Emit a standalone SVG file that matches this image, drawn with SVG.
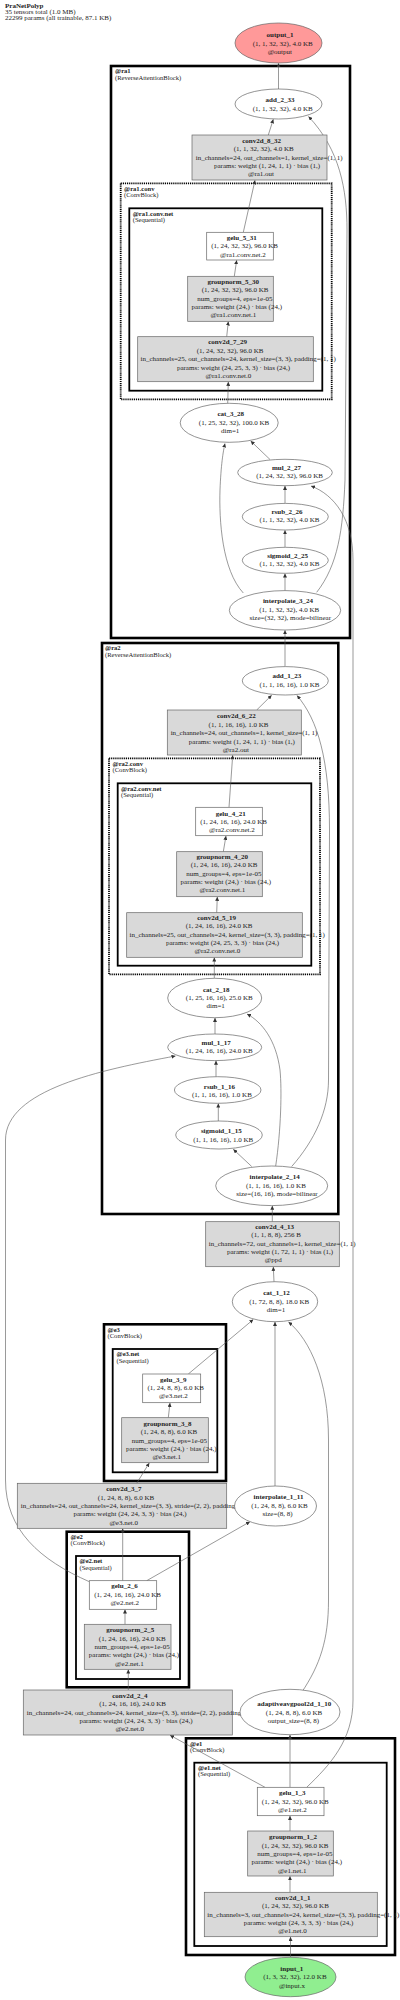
<svg xmlns="http://www.w3.org/2000/svg" width="400" height="2000" viewBox="0 0 400 2000">
<style>
text{font-family:"Liberation Serif","Times New Roman",serif;font-size:7px;fill:#222}
.t{text-anchor:middle}
.b{font-weight:bold}
.cl{font-size:6.6px}
.c3{fill:none;stroke:#000;stroke-width:2.6}
.c2{fill:none;stroke:#000;stroke-width:1.8}
.cd{fill:none;stroke:#000;stroke-width:1.8;stroke-dasharray:1.2 0.9}
.n{stroke:#666;stroke-width:0.7}
.g{fill:#d9d9d9}
.w{fill:#fff}
.e{fill:none;stroke:#555;stroke-width:0.6;marker-end:url(#ah)}
</style>
<defs>
<marker id="ah" viewBox="0 0 10 10" refX="10" refY="5" markerWidth="4" markerHeight="4" markerUnits="userSpaceOnUse" orient="auto">
<path d="M0,0 L10,5 L0,10 z" fill="#333"/>
</marker>
</defs>
<rect width="400" height="2000" fill="#fff"/>
<g id="title">
<text x="5" y="8" class="b">PraNetPolyp</text>
<text x="5" y="14">35 tensors total (1.0 MB)</text>
<text x="5" y="20">22299 params (all trainable, 87.1 KB)</text>
</g>
<g id="clusters">
<g id="cl-ra1"><rect x="111" y="66" width="239" height="572" class="c3"/><text x="115" y="73.2" class="b cl">@ra1</text><text x="115" y="79.5" class="cl">(ReverseAttentionBlock)</text></g>
<g id="cl-ra1-conv"><rect x="120.7" y="183.3" width="211" height="216" class="cd"/><text x="124" y="190.5" class="b cl">@ra1.conv</text><text x="124" y="196.8" class="cl">(ConvBlock)</text></g>
<g id="cl-ra1-conv-net"><rect x="129.3" y="208.3" width="193" height="182.4" class="c2"/><text x="132.7" y="215.5" class="b cl">@ra1.conv.net</text><text x="132.7" y="221.8" class="cl">(Sequential)</text></g>
<g id="cl-ra2"><rect x="102" y="643" width="236.3" height="571" class="c3"/><text x="105" y="650.2" class="b cl">@ra2</text><text x="105" y="656.5" class="cl">(ReverseAttentionBlock)</text></g>
<g id="cl-ra2-conv"><rect x="109" y="758.3" width="211" height="216" class="cd"/><text x="112.5" y="765.5" class="b cl">@ra2.conv</text><text x="112.5" y="771.8" class="cl">(ConvBlock)</text></g>
<g id="cl-ra2-conv-net"><rect x="117.7" y="783.3" width="193.6" height="182.4" class="c2"/><text x="121" y="790.5" class="b cl">@ra2.conv.net</text><text x="121" y="796.8" class="cl">(Sequential)</text></g>
<g id="cl-e3"><rect x="104" y="1324.3" width="122" height="156.7" class="c3"/><text x="107.5" y="1331.5" class="b cl">@e3</text><text x="107.5" y="1337.8" class="cl">(ConvBlock)</text></g>
<g id="cl-e3-net"><rect x="112.7" y="1349" width="104.6" height="123.3" class="c2"/><text x="116.5" y="1356.2" class="b cl">@e3.net</text><text x="116.5" y="1362.5" class="cl">(Sequential)</text></g>
<g id="cl-e2"><rect x="66.7" y="1531.7" width="122.3" height="155.6" class="c3"/><text x="70.5" y="1538.9" class="b cl">@e2</text><text x="70.5" y="1545.2" class="cl">(ConvBlock)</text></g>
<g id="cl-e2-net"><rect x="76" y="1556" width="104" height="123" class="c2"/><text x="79.5" y="1563.2" class="b cl">@e2.net</text><text x="79.5" y="1569.5" class="cl">(Sequential)</text></g>
<g id="cl-e1"><rect x="186" y="1738.3" width="209" height="216.7" class="c3"/><text x="190" y="1745.5" class="b cl">@e1</text><text x="190" y="1751.8" class="cl">(ConvBlock)</text></g>
<g id="cl-e1-net"><rect x="194.3" y="1762.7" width="192.4" height="183.3" class="c2"/><text x="198" y="1769.9" class="b cl">@e1.net</text><text x="198" y="1776.2" class="cl">(Sequential)</text></g>
</g>
<g id="connectors">
<path class="e" d="M278.5,89 L278.5,63.2"/>
<path class="e" d="M268.3,135 L273.3,119.3"/>
<path class="e" d="M243.3,232.3 L255,180.3"/>
<path class="e" d="M234.3,276.3 L236.7,260.2"/>
<path class="e" d="M226.7,336.7 L228.3,321.5"/>
<path class="e" d="M227.7,403.3 L228.3,381.9"/>
<path class="e" d="M270,459.5 L250.7,441"/>
<path class="e" d="M285,503.4 L285,485.9"/>
<path class="e" d="M285,547.3 L285,530.2"/>
<path class="e" d="M285,590.6 L285,573.5"/>
<path class="e" d="M243.3,593 C222,570 219,520 220,490 C221,465 223,452 225,443.5"/>
<path class="e" d="M316.7,592.3 C338,565 343,530 345,480 L347,230 C347,190 340,150 308.5,116.5"/>
<path class="e" d="M306.7,1787.3 C330,1765 353,1740 353,1700 L353,560 C353,520 335,495 311,486"/>
<path class="e" d="M285,666.6 L285,630.2"/>
<path class="e" d="M256.7,710 L271.7,695.2"/>
<path class="e" d="M229,807.3 L232.7,755.2"/>
<path class="e" d="M223.3,851.7 L226,835.9"/>
<path class="e" d="M216.7,912.7 L217.3,896.9"/>
<path class="e" d="M214.3,978.3 L214.3,957.5"/>
<path class="e" d="M215,1034 L215,1017.9"/>
<path class="e" d="M216,1076.7 L216,1060.8"/>
<path class="e" d="M218.3,1121 L218.3,1103.5"/>
<path class="e" d="M251.7,1166.5 L233.3,1149.3"/>
<path class="e" d="M275.7,1166 C281,1130 282,1090 280,1070 C276,1040 262,1022 247,1014"/>
<path class="e" d="M291.7,1166.5 C315,1140 328.5,1110 328.5,1080 L329.5,830 C329.5,760 318,720 297,695.5"/>
<path class="e" d="M272.3,1221.7 L272.3,1205.8"/>
<path class="e" d="M274,1281.7 L273.3,1266.9"/>
<path class="e" d="M188.3,1374 L253.3,1319.5"/>
<path class="e" d="M168.3,1417.7 L170,1402.9"/>
<path class="e" d="M136.7,1483.3 L149.3,1462.9"/>
<path class="e" d="M275,1486 L275,1321.9"/>
<path class="e" d="M301.7,1692.3 C320,1665 328.5,1640 328.5,1600 L328.5,1440 C328.5,1380 310,1340 288.5,1322"/>
<path class="e" d="M89.3,1581.7 C40,1560 5.5,1530 5.5,1480 L5.5,1140 C5.5,1090 100,1070 175.5,1056"/>
<path class="e" d="M146.7,1580.7 L250,1521.7"/>
<path class="e" d="M122.7,1580.7 L122.7,1528.5"/>
<path class="e" d="M125,1624.3 L125,1609.5"/>
<path class="e" d="M128.3,1690 L128.3,1669.5"/>
<path class="e" d="M265,1787.3 L170,1735.2"/>
<path class="e" d="M290,1787.3 L290,1734.9"/>
<path class="e" d="M290,1831 L290,1815.9"/>
<path class="e" d="M290,1892.3 L290,1876.2"/>
<path class="e" d="M290.5,1957.3 L290.5,1936.9"/>
</g>
<g id="nodes">
<g id="output_1"><ellipse cx="278.5" cy="43" rx="43.5" ry="20" class="n" fill="#ff9999"/><text x="280" y="36.9" class="t b">output_1</text><text x="282.7" y="45.7" class="t">(1, 1, 32, 32), 4.0 KB</text><text x="279.8" y="54.1" class="t">@output</text></g>
<g id="add_2_33"><ellipse cx="278.5" cy="104" rx="43.5" ry="15" class="n w"/><text x="280" y="102.4" class="t b">add_2_33</text><text x="282.7" y="111.1" class="t">(1, 1, 32, 32), 4.0 KB</text></g>
<g id="conv2d_8_32"><rect x="192" y="135" width="135" height="45" class="n g"/><text x="261.6" y="143.1" class="t b">conv2d_8_32</text><text x="263.7" y="151.4" class="t">(1, 1, 32, 32), 4.0 KB</text><text x="269.2" y="159.7" class="t">in_channels=24, out_channels=1, kernel_size=(1, 1)</text><text x="267.1" y="168.1" class="t">params: weight (1, 24, 1, 1) · bias (1,)</text><text x="261" y="176.4" class="t">@ra1.out</text></g>
<g id="gelu_5_31"><rect x="206.7" y="232.3" width="66.6" height="27.7" class="n w"/><text x="241.7" y="240.1" class="t b">gelu_5_31</text><text x="244.6" y="248.4" class="t">(1, 24, 32, 32), 96.0 KB</text><text x="242.9" y="257.1" class="t">@ra1.conv.net.2</text></g>
<g id="groupnorm_5_30"><rect x="187.7" y="276.3" width="85.6" height="45" class="n g"/><text x="233.2" y="283.9" class="t b">groupnorm_5_30</text><text x="235.1" y="292.4" class="t">(1, 24, 32, 32), 96.0 KB</text><text x="234.9" y="300.7" class="t">num_groups=4, eps=1e-05</text><text x="236.8" y="309.1" class="t">params: weight (24,) · bias (24,)</text><text x="233.4" y="317.4" class="t">@ra1.conv.net.1</text></g>
<g id="conv2d_7_29"><rect x="137.7" y="336.7" width="175.6" height="45" class="n g"/><text x="227.6" y="344.4" class="t b">conv2d_7_29</text><text x="230.1" y="352.9" class="t">(1, 24, 32, 32), 96.0 KB</text><text x="238.2" y="361.4" class="t">in_channels=25, out_channels=24, kernel_size=(3, 3), padding=(1, 1)</text><text x="233.5" y="369.7" class="t">params: weight (24, 25, 3, 3) · bias (24,)</text><text x="228.4" y="378.1" class="t">@ra1.conv.net.0</text></g>
<g id="cat_3_28"><ellipse cx="229.2" cy="422.8" rx="49" ry="19.5" class="n w"/><text x="230.7" y="416.4" class="t b">cat_3_28</text><text x="234" y="424.7" class="t">(1, 25, 32, 32), 100.0 KB</text><text x="230.2" y="433.1" class="t">dim=1</text></g>
<g id="mul_2_27"><ellipse cx="285" cy="472.5" rx="47.3" ry="13.2" class="n w"/><text x="286.5" y="469.7" class="t b">mul_2_27</text><text x="289.6" y="478.4" class="t">(1, 24, 32, 32), 96.0 KB</text></g>
<g id="rsub_2_26"><ellipse cx="285.3" cy="516.7" rx="43" ry="13.3" class="n w"/><text x="287" y="514.1" class="t b">rsub_2_26</text><text x="289.5" y="522.4" class="t">(1, 1, 32, 32), 4.0 KB</text></g>
<g id="sigmoid_2_25"><ellipse cx="285.3" cy="560.3" rx="43" ry="13" class="n w"/><text x="287.6" y="558.1" class="t b">sigmoid_2_25</text><text x="289.5" y="566.4" class="t">(1, 1, 32, 32), 4.0 KB</text></g>
<g id="interpolate_3_24"><ellipse cx="285" cy="610.3" rx="55.7" ry="19.7" class="n w"/><text x="288" y="603.4" class="t b">interpolate_3_24</text><text x="289.2" y="611.7" class="t">(1, 1, 32, 32), 4.0 KB</text><text x="290.3" y="620.1" class="t">size=(32, 32), mode=bilinear</text></g>
<g id="add_1_23"><ellipse cx="285.3" cy="680.8" rx="43" ry="14.2" class="n w"/><text x="286.8" y="678.4" class="t b">add_1_23</text><text x="289.5" y="686.7" class="t">(1, 1, 16, 16), 1.0 KB</text></g>
<g id="conv2d_6_22"><rect x="167.3" y="710" width="134" height="45" class="n g"/><text x="236.4" y="718.4" class="t b">conv2d_6_22</text><text x="238.5" y="726.9" class="t">(1, 1, 16, 16), 1.0 KB</text><text x="244" y="735.4" class="t">in_channels=24, out_channels=1, kernel_size=(1, 1)</text><text x="241.9" y="743.7" class="t">params: weight (1, 24, 1, 1) · bias (1,)</text><text x="235.8" y="751.9" class="t">@ra2.out</text></g>
<g id="gelu_4_21"><rect x="195.7" y="807.3" width="66.6" height="28.4" class="n w"/><text x="230.7" y="815.7" class="t b">gelu_4_21</text><text x="233.6" y="824.1" class="t">(1, 24, 16, 16), 24.0 KB</text><text x="231.9" y="832.4" class="t">@ra2.conv.net.2</text></g>
<g id="groupnorm_4_20"><rect x="176.7" y="851.7" width="85.6" height="45" class="n g"/><text x="222.2" y="859.1" class="t b">groupnorm_4_20</text><text x="224.1" y="867.4" class="t">(1, 24, 16, 16), 24.0 KB</text><text x="223.9" y="875.7" class="t">num_groups=4, eps=1e-05</text><text x="225.8" y="884.1" class="t">params: weight (24,) · bias (24,)</text><text x="222.4" y="892.4" class="t">@ra2.conv.net.1</text></g>
<g id="conv2d_5_19"><rect x="126.7" y="912.7" width="175.6" height="44.6" class="n g"/><text x="216.6" y="919.7" class="t b">conv2d_5_19</text><text x="219.1" y="928.4" class="t">(1, 24, 16, 16), 24.0 KB</text><text x="227.2" y="936.7" class="t">in_channels=25, out_channels=24, kernel_size=(3, 3), padding=(1, 1)</text><text x="222.5" y="945.1" class="t">params: weight (24, 25, 3, 3) · bias (24,)</text><text x="217.4" y="953.4" class="t">@ra2.conv.net.0</text></g>
<g id="cat_2_18"><ellipse cx="214.7" cy="998" rx="47" ry="19.7" class="n w"/><text x="216.2" y="991.7" class="t b">cat_2_18</text><text x="219.3" y="1000.1" class="t">(1, 25, 16, 16), 25.0 KB</text><text x="215.7" y="1008.4" class="t">dim=1</text></g>
<g id="mul_1_17"><ellipse cx="214.7" cy="1047.3" rx="47" ry="13.3" class="n w"/><text x="216.2" y="1045.1" class="t b">mul_1_17</text><text x="219.3" y="1053.4" class="t">(1, 24, 16, 16), 24.0 KB</text></g>
<g id="rsub_1_16"><ellipse cx="217.7" cy="1090" rx="43.3" ry="13.3" class="n w"/><text x="219.4" y="1089.1" class="t b">rsub_1_16</text><text x="221.9" y="1097.4" class="t">(1, 1, 16, 16), 1.0 KB</text></g>
<g id="sigmoid_1_15"><ellipse cx="219" cy="1135" rx="43.3" ry="14" class="n w"/><text x="221.3" y="1133.4" class="t b">sigmoid_1_15</text><text x="223.2" y="1141.7" class="t">(1, 1, 16, 16), 1.0 KB</text></g>
<g id="interpolate_2_14"><ellipse cx="271.7" cy="1185.8" rx="56" ry="19.8" class="n w"/><text x="274.7" y="1179.1" class="t b">interpolate_2_14</text><text x="275.9" y="1187.7" class="t">(1, 1, 16, 16), 1.0 KB</text><text x="277" y="1196.1" class="t">size=(16, 16), mode=bilinear</text></g>
<g id="conv2d_4_13"><rect x="205.7" y="1221.7" width="133.6" height="45" class="n g"/><text x="274.6" y="1228.7" class="t b">conv2d_4_13</text><text x="276.1" y="1237.4" class="t">(1, 1, 8, 8), 256 B</text><text x="282.2" y="1245.7" class="t">in_channels=72, out_channels=1, kernel_size=(1, 1)</text><text x="280.1" y="1254.1" class="t">params: weight (1, 72, 1, 1) · bias (1,)</text><text x="273.3" y="1262.4" class="t">@ppd</text></g>
<g id="cat_1_12"><ellipse cx="275" cy="1301.7" rx="42.7" ry="20" class="n w"/><text x="276.5" y="1295.1" class="t b">cat_1_12</text><text x="279.2" y="1303.7" class="t">(1, 72, 8, 8), 18.0 KB</text><text x="276" y="1312.1" class="t">dim=1</text></g>
<g id="gelu_3_9"><rect x="142.7" y="1374" width="58" height="28.7" class="n w"/><text x="173.2" y="1381.7" class="t b">gelu_3_9</text><text x="175.7" y="1390.1" class="t">(1, 24, 8, 8), 6.0 KB</text><text x="173.4" y="1398.4" class="t">@e3.net.2</text></g>
<g id="groupnorm_3_8"><rect x="121.7" y="1417.7" width="86.6" height="45" class="n g"/><text x="167.5" y="1426.1" class="t b">groupnorm_3_8</text><text x="169" y="1434.4" class="t">(1, 24, 8, 8), 6.0 KB</text><text x="169.4" y="1442.7" class="t">num_groups=4, eps=1e-05</text><text x="171.3" y="1451.1" class="t">params: weight (24,) · bias (24,)</text><text x="166.7" y="1459.4" class="t">@e3.net.1</text></g>
<g id="conv2d_3_7"><rect x="17.3" y="1483.3" width="209.4" height="45" class="n g"/><text x="123.9" y="1491.1" class="t b">conv2d_3_7</text><text x="126" y="1499.7" class="t">(1, 24, 8, 8), 6.0 KB</text><text x="137.6" y="1508.1" class="t">in_channels=24, out_channels=24, kernel_size=(3, 3), stride=(2, 2), padding=(1, 1)</text><text x="130" y="1516.4" class="t">params: weight (24, 24, 3, 3) · bias (24,)</text><text x="123.7" y="1524.7" class="t">@e3.net.0</text></g>
<g id="interpolate_1_11"><ellipse cx="275.5" cy="1506" rx="41" ry="20" class="n w"/><text x="278.5" y="1499.4" class="t b">interpolate_1_11</text><text x="279.5" y="1508.1" class="t">(1, 24, 8, 8), 6.0 KB</text><text x="277.6" y="1516.4" class="t">size=(8, 8)</text></g>
<g id="gelu_2_6"><rect x="89.3" y="1580.7" width="67.4" height="28.6" class="n w"/><text x="124.5" y="1588.4" class="t b">gelu_2_6</text><text x="127.6" y="1596.7" class="t">(1, 24, 16, 16), 24.0 KB</text><text x="124.7" y="1605.1" class="t">@e2.net.2</text></g>
<g id="groupnorm_2_5"><rect x="84.3" y="1624.3" width="86.7" height="45" class="n g"/><text x="130.2" y="1632.4" class="t b">groupnorm_2_5</text><text x="132.3" y="1640.7" class="t">(1, 24, 16, 16), 24.0 KB</text><text x="132.1" y="1649.1" class="t">num_groups=4, eps=1e-05</text><text x="134" y="1657.4" class="t">params: weight (24,) · bias (24,)</text><text x="129.4" y="1665.7" class="t">@e2.net.1</text></g>
<g id="conv2d_2_4"><rect x="23.3" y="1690" width="209" height="45" class="n g"/><text x="129.9" y="1698.1" class="t b">conv2d_2_4</text><text x="132.6" y="1706.4" class="t">(1, 24, 16, 16), 24.0 KB</text><text x="143.6" y="1714.7" class="t">in_channels=24, out_channels=24, kernel_size=(3, 3), stride=(2, 2), padding=(1, 1)</text><text x="136" y="1723.1" class="t">params: weight (24, 24, 3, 3) · bias (24,)</text><text x="129.7" y="1731.4" class="t">@e2.net.0</text></g>
<g id="adaptiveavgpool2d_1_10"><ellipse cx="290" cy="1712" rx="50" ry="22.7" class="n w"/><text x="294.2" y="1706.4" class="t b">adaptiveavgpool2d_1_10</text><text x="294" y="1714.7" class="t">(1, 24, 8, 8), 6.0 KB</text><text x="293.4" y="1723.1" class="t">output_size=(8, 8)</text></g>
<g id="gelu_1_3"><rect x="257.3" y="1787.3" width="66.7" height="28.4" class="n w"/><text x="292.2" y="1795.1" class="t b">gelu_1_3</text><text x="295.3" y="1803.7" class="t">(1, 24, 32, 32), 96.0 KB</text><text x="292.4" y="1812.1" class="t">@e1.net.2</text></g>
<g id="groupnorm_1_2"><rect x="247.7" y="1831" width="85.6" height="45" class="n g"/><text x="293" y="1839.4" class="t b">groupnorm_1_2</text><text x="295.1" y="1847.7" class="t">(1, 24, 32, 32), 96.0 KB</text><text x="294.9" y="1856.1" class="t">num_groups=4, eps=1e-05</text><text x="296.8" y="1864.4" class="t">params: weight (24,) · bias (24,)</text><text x="292.2" y="1872.7" class="t">@e1.net.1</text></g>
<g id="conv2d_1_1"><rect x="204.3" y="1892.3" width="173" height="44.4" class="n g"/><text x="292.7" y="1900.1" class="t b">conv2d_1_1</text><text x="295.4" y="1908.4" class="t">(1, 24, 32, 32), 96.0 KB</text><text x="303.3" y="1916.7" class="t">in_channels=3, out_channels=24, kernel_size=(3, 3), padding=(1, 1)</text><text x="298.6" y="1925.1" class="t">params: weight (24, 3, 3, 3) · bias (24,)</text><text x="292.5" y="1933.4" class="t">@e1.net.0</text></g>
<g id="input_1"><ellipse cx="290.5" cy="1977" rx="45.5" ry="19.7" class="n" fill="#90ee90"/><text x="291.8" y="1970.7" class="t b">input_1</text><text x="294.9" y="1979.4" class="t">(1, 3, 32, 32), 12.0 KB</text><text x="292" y="1987.7" class="t">@input.x</text></g>
</g>
</svg>
